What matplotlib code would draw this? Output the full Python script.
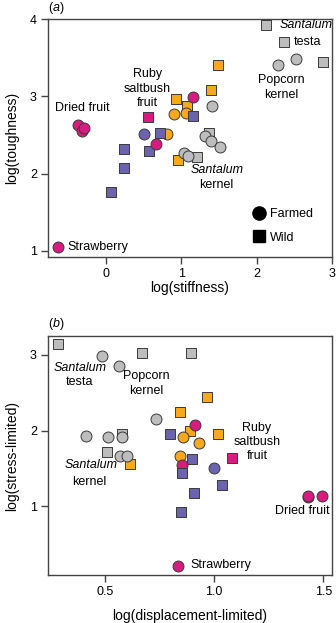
"""Dos paneles de dispersion: propiedades mecanicas de frutos/semillas, cultivados vs silvestres."""

import matplotlib

matplotlib.use("Agg")
import matplotlib.pyplot as plt  # noqa: E402
from matplotlib.lines import Line2D  # noqa: E402

plt.rcParams["font.family"] = ["Liberation Sans", "DejaVu Sans"]
plt.rcParams["mathtext.fontset"] = "custom"
plt.rcParams["mathtext.it"] = "Liberation Sans:italic"
plt.rcParams["mathtext.rm"] = "Liberation Sans"

COLORES = {
    "gris": "#bdbdbd",
    "naranja": "#f7a81b",
    "magenta": "#d81b7e",
    "morado": "#6b63ae",
}
BORDE = "#3a3a3a"
EJE = "#444444"

# Orden de los grupos: (color, forma)
GRUPOS = [
    ("gris", "s"), ("naranja", "s"), ("magenta", "s"), ("morado", "s"),
    ("gris", "o"), ("naranja", "o"), ("magenta", "o"), ("morado", "o"),
]

# Panel (a): log(stiffness) vs log(toughness)
a_gris_s_x = [2.13, 2.36, 2.88, 1.37, 1.21]
a_gris_s_y = [3.92, 3.70, 3.44, 2.53, 2.21]
a_naranja_s_x = [1.49, 1.39, 0.93, 1.08, 0.95]
a_naranja_s_y = [3.41, 3.08, 2.97, 2.87, 2.17]
a_magenta_s_x = [0.56]
a_magenta_s_y = [2.73]
a_morado_s_x = [0.24, 0.57, 0.24, 0.06]
a_morado_s_y = [2.32, 2.29, 2.07, 1.76]
a_gris_o_x = [2.52, 2.28, 1.41, 1.32, 1.39, 1.51, 1.04, 1.09]
a_gris_o_y = [3.48, 3.40, 2.87, 2.48, 2.42, 2.34, 2.26, 2.23]
a_naranja_o_x = [0.90, 1.06, 0.81]
a_naranja_o_y = [2.77, 2.78, 2.51]
a_magenta_o_x = [-0.37, -0.32, -0.29, 1.16, 0.67, -0.64]
a_magenta_o_y = [2.63, 2.55, 2.59, 2.99, 2.38, 1.05]
a_morado_o_x = [0.50]
a_morado_o_y = [2.51]
# cuadrados morados que quedan encima de los circulos
a_morado_s2_x = [1.16, 0.72]
a_morado_s2_y = [2.75, 2.53]

# Panel (b): log(displacement-limited) vs log(stress-limited)
b_gris_s_x = [0.284, 0.67, 0.894, 0.58, 0.51]
b_gris_s_y = [3.15, 3.02, 3.02, 1.96, 1.71]
b_naranja_s_x = [0.966, 0.844, 0.89, 1.02, 0.615]
b_naranja_s_y = [2.45, 2.24, 1.99, 1.96, 1.56]
b_magenta_s_x = [1.083]
b_magenta_s_y = [1.64]
b_morado_s_x = [0.798, 0.90, 0.909, 1.037, 0.848]
b_morado_s_y = [1.96, 1.63, 1.17, 1.28, 0.92]
b_gris_o_x = [0.486, 0.564, 0.734, 0.413, 0.515, 0.58, 0.57, 0.60]
b_gris_o_y = [2.99, 2.85, 2.15, 1.93, 1.91, 1.91, 1.67, 1.66]
b_naranja_o_x = [0.857, 0.933, 0.844]
b_naranja_o_y = [1.92, 1.83, 1.66]
b_magenta_o_x = [0.913, 0.853, 1.43, 1.43, 1.495, 0.835]
b_magenta_o_y = [2.07, 1.54, 1.12, 1.14, 1.14, 0.21]
b_morado_o_x = [1.00]
b_morado_o_y = [1.51]
b_morado_s2_x = [0.853]
b_morado_s2_y = [1.44]


def _dibujar(ax, datos):
    for (color, forma), (xs, ys) in datos:
        ax.scatter(
            xs, ys,
            s=62 if forma == "o" else 52,
            marker=forma,
            c=COLORES[color],
            edgecolors=BORDE,
            linewidths=0.7,
            zorder=3,
        )


def _estilo(ax):
    for lado in ax.spines.values():
        lado.set_color(EJE)
        lado.set_linewidth(1.0)
    ax.tick_params(direction="out", length=5, width=1.0, color=EJE,
                   labelsize=9, pad=3)


fig = plt.figure(figsize=(3.36, 6.23), dpi=100)
ax_a = fig.add_axes([0.143, 0.5875, 0.845, 0.382])
ax_b = fig.add_axes([0.143, 0.077, 0.845, 0.3837])

datos_a = list(zip(GRUPOS, [
    (a_gris_s_x, a_gris_s_y), (a_naranja_s_x, a_naranja_s_y),
    (a_magenta_s_x, a_magenta_s_y), (a_morado_s_x, a_morado_s_y),
    (a_gris_o_x, a_gris_o_y), (a_naranja_o_x, a_naranja_o_y),
    (a_magenta_o_x, a_magenta_o_y), (a_morado_o_x, a_morado_o_y),
])) + [(("morado", "s"), (a_morado_s2_x, a_morado_s2_y))]
_dibujar(ax_a, datos_a)

datos_b = list(zip(GRUPOS, [
    (b_gris_s_x, b_gris_s_y), (b_naranja_s_x, b_naranja_s_y),
    (b_magenta_s_x, b_magenta_s_y), (b_morado_s_x, b_morado_s_y),
    (b_gris_o_x, b_gris_o_y), (b_naranja_o_x, b_naranja_o_y),
    (b_magenta_o_x, b_magenta_o_y), (b_morado_o_x, b_morado_o_y),
])) + [(("morado", "s"), (b_morado_s2_x, b_morado_s2_y))]
_dibujar(ax_b, datos_b)

# Panel (a)
ax_a.set_xlim(-0.77, 3.0)
ax_a.set_ylim(0.92, 4.0)
ax_a.set_xticks([0, 1, 2, 3])
ax_a.set_yticks([1, 2, 3, 4])
ax_a.set_xlabel("log(stiffness)", fontsize=10, labelpad=1)
ax_a.set_ylabel("log(toughness)", fontsize=10, labelpad=8)
_estilo(ax_a)
ax_a.text(0.0, 1.045, "($\\it{a}$)", transform=ax_a.transAxes, fontsize=9,
          ha="left", va="center")

ft = dict(fontsize=9, zorder=4)
ax_a.text(2.31, 3.92, "Santalum", style="italic", ha="left", va="center", **ft)
ax_a.text(2.49, 3.70, "testa", ha="left", va="center", **ft)
ax_a.text(2.33, 3.11, "Popcorn\nkernel", ha="center", va="center", linespacing=1.3, **ft)
ax_a.text(0.55, 3.10, "Ruby\nsaltbush\nfruit", ha="center", va="center", linespacing=1.25, **ft)
ax_a.text(-0.31, 2.85, "Dried fruit", ha="center", va="center", **ft)
ax_a.text(1.47, 2.05, "Santalum", style="italic", ha="center", va="center", **ft)
ax_a.text(1.47, 1.85, "kernel", ha="center", va="center", **ft)
ax_a.text(-0.51, 1.05, "Strawberry", ha="left", va="center", **ft)

manejadores = [
    Line2D([], [], marker="o", color="black", linestyle="none", markersize=9.5),
    Line2D([], [], marker="s", color="black", linestyle="none", markersize=9),
]
ax_a.legend(manejadores, ["Farmed", "Wild"], loc="center left",
            bbox_to_anchor=(0.704, 0.13), borderaxespad=0, frameon=False,
            fontsize=9, handlelength=1.0, handletextpad=0.4, labelspacing=0.9)

# Panel (b)
ax_b.set_xlim(0.24, 1.54)
ax_b.set_ylim(0.09, 3.25)
ax_b.set_xticks([0.5, 1.0, 1.5])
ax_b.set_yticks([1, 2, 3])
ax_b.set_xlabel("log(displacement-limited)", fontsize=10, labelpad=8)
ax_b.set_ylabel("log(stress-limited)", fontsize=10, labelpad=8)
_estilo(ax_b)
ax_b.text(0.0, 1.05, "($\\it{b}$)", transform=ax_b.transAxes, fontsize=9,
          ha="left", va="center")

ax_b.text(0.385, 2.83, "Santalum", style="italic", ha="center", va="center", **ft)
ax_b.text(0.385, 2.64, "testa", ha="center", va="center", **ft)
ax_b.text(0.69, 2.62, "Popcorn\nkernel", ha="center", va="center", linespacing=1.3, **ft)
ax_b.text(1.197, 1.85, "Ruby\nsaltbush\nfruit", ha="center", va="center", linespacing=1.25, **ft)
ax_b.text(0.436, 1.54, "Santalum", style="italic", ha="center", va="center", **ft)
ax_b.text(0.43, 1.32, "kernel", ha="center", va="center", **ft)
ax_b.text(1.404, 0.93, "Dried fruit", ha="center", va="center", **ft)
ax_b.text(0.89, 0.22, "Strawberry", ha="left", va="center", **ft)

fig.savefig("out.png", dpi=100)
plt.close(fig)
